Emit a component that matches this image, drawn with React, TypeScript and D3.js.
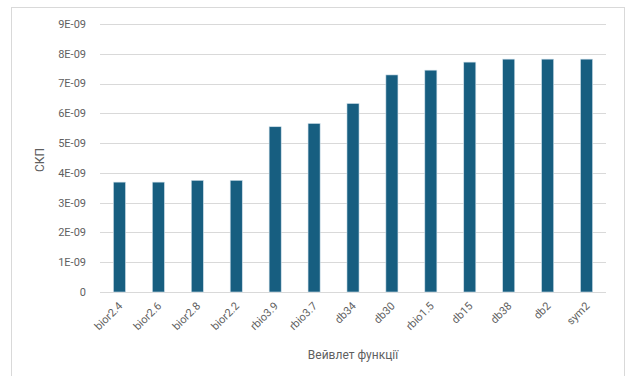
import React from "react";
import * as d3 from "d3";

const categories = ["bior2.4", "bior2.6", "bior2.8", "bior2.2", "rbio3.9", "rbio3.7", "db34", "db30", "rbio1.5", "db15", "db38", "db2", "sym2"];
const values = [3.69e-9, 3.69e-9, 3.75e-9, 3.75e-9, 5.55e-9, 5.66e-9, 6.33e-9, 7.29e-9, 7.45e-9, 7.72e-9, 7.82e-9, 7.82e-9, 7.82e-9];
const yTicks = [0, 1e-9, 2e-9, 3e-9, 4e-9, 5e-9, 6e-9, 7e-9, 8e-9, 9e-9];
const yTickLabels = ["0", "1E-09", "2E-09", "3E-09", "4E-09", "5E-09", "6E-09", "7E-09", "8E-09", "9E-09"];
const yTitle = "СКП";
const xTitle = "Вейвлет функції";

const W = 626;
const H = 376;
const plot = { left: 100, right: 606, top: 24, bottom: 292 };

export default function App() {
  const x = d3.scaleBand<string>().domain(categories).range([plot.left, plot.right]).paddingInner(0.69).paddingOuter(0.345);
  const y = d3.scaleLinear().domain([0, 9e-9]).range([plot.bottom, plot.top]);
  const font = "Roboto, 'Liberation Sans', Arial, sans-serif";
  return (
    <svg width={W} height={H} style={{ position: "absolute", left: 0, top: 0 }} fontFamily={font}>
      <rect x={0} y={0} width={W} height={H} fill="#fff" />
      <rect x={11.5} y={7.5} width={613} height={380} fill="#fff" stroke="#d9d9d9" strokeWidth={1} />
      {yTicks.map((t, i) => (
        <g key={i}>
          <line x1={plot.left} x2={plot.right} y1={Math.round(y(t)) + 0.5} y2={Math.round(y(t)) + 0.5} stroke="#d9d9d9" strokeWidth={1} />
          <text x={86} y={y(t)} dy="0.35em" textAnchor="end" fontSize={11} fill="#5f5f5f">{yTickLabels[i]}</text>
        </g>
      ))}
      {categories.map((c, i) => (
        <rect key={c} x={x(c)} y={y(values[i])} width={x.bandwidth()} height={y(0) - y(values[i])} fill="#175e80" stroke="#cfe0ea" strokeWidth={0.6} />
      ))}
      {categories.map((c) => {
        const cx = (x(c) as number) + x.bandwidth() / 2;
        return (
          <text key={c} transform={`translate(${cx + 1},${plot.bottom + 12}) rotate(-45)`} textAnchor="end" dy="0.35em" fontSize={11} fill="#5f5f5f">{c}</text>
        );
      })}
      <text transform={`translate(44,${(plot.top + plot.bottom) / 2 + 2}) rotate(-90)`} textAnchor="middle" fontSize={12} fill="#5f5f5f">{yTitle}</text>
      <text x={353} y={359} textAnchor="middle" fontSize={12} fill="#5f5f5f">{xTitle}</text>
    </svg>
  );
}
